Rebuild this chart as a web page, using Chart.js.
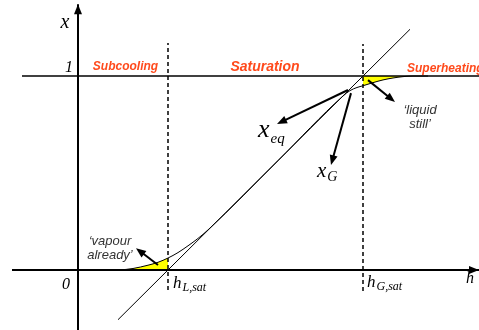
<!DOCTYPE html>
<html>
<head>
<meta charset="utf-8">
<script src="https://cdn.jsdelivr.net/npm/chart.js@4/dist/chart.umd.min.js"></script>
<style>
  body { margin: 0; background: #fff; }
  #wrap { width: 479px; height: 330px; }
</style>
</head>
<body>
<div id="wrap"><canvas id="chart" width="479" height="330"></canvas></div>
<script>
// saturation enthalpies (arbitrary h units)
const hL = 0.9;
const hG = 2.85;

// equilibrium quality x_eq, drawn as a straight line
const eqH = [0.4, 3.32];
const eqX = [-0.256, 1.241];

// actual vapour quality x_G
const curveH = [0.42, 0.55, 0.7, 0.8, 0.9, 1.0, 1.1, 1.2, 1.3, 2.0, 2.65, 2.72, 2.79, 2.85, 2.95, 3.05, 3.15, 3.25, 3.35, 3.5];
const curveX = [0, 0.008, 0.025, 0.04, 0.062, 0.09, 0.125, 0.163, 0.207, 0.564, 0.897, 0.925, 0.941, 0.95, 0.966, 0.98, 0.99, 0.997, 1, 1];

// arrows: [fromH, fromX, toH, toX]
const arrows = [
    [0.80, 0.026, 0.58, 0.113],   // 'vapour already'
    [2.90, 0.979, 3.17, 0.866],   // 'liquid still'
    [2.70, 0.928, 1.99, 0.753],   // x_eq
    [2.73, 0.912, 2.53, 0.541],   // x_G
    [0, -0.31, 0, 1.37],          // x axis
    [-0.66, 0, 4.01, 0]           // h axis
];

const regionNames = ['Subcooling', 'Saturation', 'Superheating'];

function pts(hs, xs) {
    return hs.map((h, i) => ({ x: h, y: xs[i] }));
}

const bottomFill = [], topFill = [];
curveH.forEach((h, i) => {
    if (h <= hL) bottomFill.push({ x: h, y: curveX[i] });
    if (h >= hG && h <= 3.35) topFill.push({ x: h, y: curveX[i] });
});

function line(data, extra) {
    return Object.assign({
        data: data, showLine: true, pointRadius: 0, borderColor: '#000',
        borderWidth: 1, fill: false
    }, extra || {});
}

const labels = [
    { t: 'x', h: -0.13, x: 1.247, font: 'italic 20px "Liberation Serif"', align: 'center' },
    { t: '1', h: -0.09, x: 1.021, font: 'italic 16px "Liberation Serif"', align: 'center' },
    { t: '0', h: -0.12, x: -0.098, font: 'italic 16px "Liberation Serif"', align: 'center' },
    { t: regionNames[0], h: 0.475, x: 1.031, font: 'bold italic 12px "Liberation Sans"', color: '#ff4a1c', align: 'center' },
    { t: regionNames[1], h: 1.87, x: 1.026, font: 'bold italic 14px "Liberation Sans"', color: '#ff4a1c', align: 'center' },
    { t: regionNames[2], h: 3.29, x: 1.021, font: 'bold italic 12px "Liberation Sans"', color: '#ff4a1c', align: 'left' },
    { t: '\u2018liquid', h: 3.42, x: 0.804, font: 'italic 13px "Liberation Sans"', color: '#333', align: 'center' },
    { t: 'still\u2019', h: 3.42, x: 0.732, font: 'italic 13px "Liberation Sans"', color: '#333', align: 'center' },
    { t: '\u2018vapour', h: 0.32, x: 0.129, font: 'italic 13px "Liberation Sans"', color: '#333', align: 'center' },
    { t: 'already\u2019', h: 0.32, x: 0.057, font: 'italic 13px "Liberation Sans"', color: '#333', align: 'center' },
    { t: 'h', h: 3.88, x: -0.067, font: 'italic 16px "Liberation Serif"', align: 'left' }
];

// symbol with subscript: main, sub, h, x, main size, sub size, sub drop
const subLabels = [
    ['x', 'eq', 1.8, 0.686, 26, 15, 6],
    ['x', 'G', 2.39, 0.479, 21, 14, 4],
    ['h', 'L,sat', 0.95, -0.093, 17, 12, 3],
    ['h', 'G,sat', 2.89, -0.088, 17, 12, 3]
];

const decor = {
    id: 'decor',
    afterDatasetsDraw(chart) {
        const c = chart.ctx, sx = chart.scales.x, sy = chart.scales.y;
        c.save();
        c.fillStyle = '#000';
        c.strokeStyle = '#000';
        arrows.forEach(a => {
            const x1 = sx.getPixelForValue(a[0]), y1 = sy.getPixelForValue(a[1]);
            const x2 = sx.getPixelForValue(a[2]), y2 = sy.getPixelForValue(a[3]);
            const ang = Math.atan2(y2 - y1, x2 - x1);
            c.lineWidth = 2;
            c.beginPath();
            c.moveTo(x1, y1);
            c.lineTo(x2 - 6 * Math.cos(ang), y2 - 6 * Math.sin(ang));
            c.stroke();
            c.beginPath();
            c.moveTo(x2, y2);
            c.lineTo(x2 - 10 * Math.cos(ang) + 4 * Math.sin(ang), y2 - 10 * Math.sin(ang) - 4 * Math.cos(ang));
            c.lineTo(x2 - 10 * Math.cos(ang) - 4 * Math.sin(ang), y2 - 10 * Math.sin(ang) + 4 * Math.cos(ang));
            c.closePath();
            c.fill();
        });
        c.textBaseline = 'alphabetic';
        labels.forEach(l => {
            c.font = l.font;
            c.fillStyle = l.color || '#000';
            c.textAlign = l.align;
            c.fillText(l.t, sx.getPixelForValue(l.h), sy.getPixelForValue(l.x));
        });
        c.textAlign = 'left';
        c.fillStyle = '#000';
        subLabels.forEach(s => {
            const px = sx.getPixelForValue(s[2]), py = sy.getPixelForValue(s[3]);
            c.font = 'italic ' + s[4] + 'px "Liberation Serif"';
            c.fillText(s[0], px, py);
            const w = c.measureText(s[0]).width;
            c.font = 'italic ' + s[5] + 'px "Liberation Serif"';
            c.fillText(s[1], px + w + 1, py + s[6]);
        });
        c.restore();
    }
};

new Chart(document.getElementById('chart'), {
    type: 'scatter',
    data: {
        datasets: [
            line(pts([-0.66, 4.01], [0, 0]), { borderWidth: 2 }),
            line(pts([0, 0], [-0.31, 1.37]), { borderWidth: 2 }),
            line(pts([-0.56, 4.01], [1, 1]), { borderWidth: 1.5 }),
            line(pts([hL, hL], [-0.103, 1.17]), { borderWidth: 1.5, borderDash: [4, 3] }),
            line(pts([hG, hG], [-0.108, 1.165]), { borderWidth: 1.5, borderDash: [4, 3] }),
            line(pts(eqH, eqX)),
            line(pts(curveH, curveX), { cubicInterpolationMode: 'monotone' }),
            line(bottomFill, { borderWidth: 0, borderColor: 'rgba(0,0,0,0)', backgroundColor: '#ffff00',
                fill: 'origin', cubicInterpolationMode: 'monotone', order: 10 }),
            line(topFill, { borderWidth: 0, borderColor: 'rgba(0,0,0,0)', backgroundColor: '#ffff00',
                fill: { value: 1 }, cubicInterpolationMode: 'monotone', order: 10 })
        ]
    },
    options: {
        responsive: false,
        animation: false,
        devicePixelRatio: 1,
        layout: { padding: 0 },
        scales: {
            x: { type: 'linear', min: -0.78, max: 4.01, display: false },
            y: { type: 'linear', min: -0.309, max: 1.392, display: false }
        },
        plugins: { legend: { display: false }, tooltip: { enabled: false } }
    },
    plugins: [decor]
});
</script>
</body>
</html>
